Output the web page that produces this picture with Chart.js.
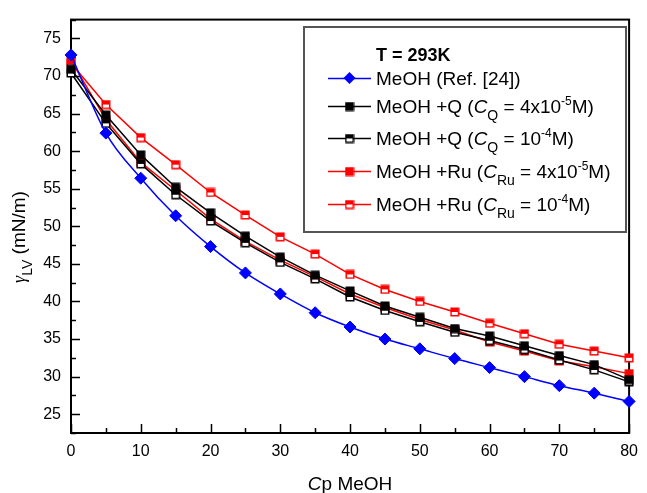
<!DOCTYPE html>
<html>
<head>
<meta charset="utf-8">
<script src="https://cdn.jsdelivr.net/npm/chart.js@4/dist/chart.umd.min.js"></script>
<style>
  html, body { margin: 0; padding: 0; background: #fff; }
  #wrap { width: 647px; height: 493px; position: relative; }
</style>
</head>
<body>
<div id="wrap"><canvas id="c" width="647" height="493"></canvas></div>
<script>
// ---- data ----
const cpMeOH = [0, 5, 10, 15, 20, 25, 30, 35, 40, 45, 50, 55, 60, 65, 70, 75, 80];
const meohRef   = [72.8, 62.4, 56.4, 51.4, 47.3, 43.8, 41.0, 38.5, 36.6, 35.0, 33.7, 32.4, 31.2, 30.0, 28.8, 27.8, 26.7];
const meohQ4e5  = [70.9, 64.8, 59.5, 55.2, 51.8, 48.7, 45.9, 43.5, 41.4, 39.4, 37.9, 36.4, 35.4, 34.1, 32.8, 31.6, 29.6];
const meohQ1e4  = [70.4, 63.7, 58.3, 54.2, 50.7, 47.8, 45.2, 43.0, 40.6, 38.8, 37.3, 35.9, 34.8, 33.6, 32.2, 30.9, 29.3];
const meohRu4e5 = [72.1, 64.2, 58.5, 54.8, 51.0, 48.0, 45.5, 43.3, 41.0, 39.2, 37.6, 36.2, 34.6, 33.4, 32.1, 31.3, 30.4];
const meohRu1e4 = [71.7, 66.2, 61.8, 58.2, 54.5, 51.5, 48.6, 46.3, 43.6, 41.6, 40.0, 38.6, 37.1, 35.7, 34.3, 33.4, 32.5];

const seriesNames = ['MeOH (Ref. [24])', 'MeOH +Q (CQ = 4x10-5M)', 'MeOH +Q (CQ = 10-4M)',
                     'MeOH +Ru (CRu = 4x10-5M)', 'MeOH +Ru (CRu = 10-4M)'];
const legendTitle = 'T = 293K';
const legendRows = [
  [{t: 'MeOH (Ref. [24])'}],
  [{t: 'MeOH +Q ('}, {t: 'C', s: 'i'}, {t: 'Q', s: 'sub'}, {t: ' = 4x10'}, {t: '-5', s: 'sup'}, {t: 'M)'}],
  [{t: 'MeOH +Q ('}, {t: 'C', s: 'i'}, {t: 'Q', s: 'sub'}, {t: ' = 10'}, {t: '-4', s: 'sup'}, {t: 'M)'}],
  [{t: 'MeOH +Ru ('}, {t: 'C', s: 'i'}, {t: 'Ru', s: 'sub'}, {t: ' = 4x10'}, {t: '-5', s: 'sup'}, {t: 'M)'}],
  [{t: 'MeOH +Ru ('}, {t: 'C', s: 'i'}, {t: 'Ru', s: 'sub'}, {t: ' = 10'}, {t: '-4', s: 'sup'}, {t: 'M)'}]
];
const xTitle = [{t: 'C', s: 'i'}, {t: 'p MeOH'}];
const yTitle = [{t: 'γ', s: 'greek'}, {t: 'LV', s: 'sub'}, {t: ' (mN/m)'}];
const xMajorTicks = [0, 10, 20, 30, 40, 50, 60, 70, 80];
const xMinorTicks = [5, 15, 25, 35, 45, 55, 65, 75];
const yMajorTicks = [25, 30, 35, 40, 45, 50, 55, 60, 65, 70, 75];
const yMinorTicks = [22.5, 27.5, 32.5, 37.5, 42.5, 47.5, 52.5, 57.5, 62.5, 67.5, 72.5, 77.5];

const FONT = "'Liberation Sans', Arial, sans-serif";

// ---- marker images ----
function squareMarker(color, half) {
  const s = 10;
  const c = document.createElement('canvas');
  c.width = s; c.height = s;
  const g = c.getContext('2d');
  if (half) {
    g.fillStyle = '#fff'; g.fillRect(1, 1, s - 2, s - 2);
    g.fillStyle = color; g.fillRect(1, 1, s - 2, (s - 2) / 2);
  } else {
    g.fillStyle = color; g.fillRect(1, 1, s - 2, s - 2);
  }
  g.strokeStyle = color; g.lineWidth = 1.5;
  g.strokeRect(1.25, 1.25, s - 2.5, s - 2.5);
  return c;
}
const mkBlackFull = squareMarker('#000000', false);
const mkBlackHalf = squareMarker('#000000', true);
const mkRedFull = squareMarker('#ff0000', false);
const mkRedHalf = squareMarker('#ff0000', true);

function pts(arr) { return cpMeOH.map((x, i) => ({x: x, y: arr[i]})); }

// ---- rich text ----
function segFont(s, base) {
  if (s === 'i') return 'italic ' + base + 'px ' + FONT;
  if (s === 'b') return 'bold ' + base + 'px ' + FONT;
  if (s === 'sub') return Math.round(base * 0.72) + 'px ' + FONT;
  if (s === 'sup') return Math.round(base * 0.65) + 'px ' + FONT;
  if (s === 'greek') return 'italic ' + Math.round(base * 0.95) + "px 'Liberation Serif', 'DejaVu Serif', serif";
  return base + 'px ' + FONT;
}
function segDy(s, base) {
  if (s === 'sub') return base * 0.38;
  if (s === 'sup') return -base * 0.42;
  return 0;
}
function richWidth(ctx, segs, base) {
  let w = 0;
  segs.forEach(sg => { ctx.font = segFont(sg.s, base); w += ctx.measureText(sg.t).width; });
  return w;
}
function drawRich(ctx, segs, x, y, base) {
  ctx.textAlign = 'left';
  ctx.textBaseline = 'alphabetic';
  segs.forEach(sg => {
    ctx.font = segFont(sg.s, base);
    ctx.fillText(sg.t, x, y + segDy(sg.s, base));
    x += ctx.measureText(sg.t).width;
  });
}

const datasetsDef = [
  {data: meohRef, color: '#0000ff', style: 'rectRot', r: 6, mono: true},
  {data: meohQ4e5, color: '#000000', style: mkBlackFull},
  {data: meohQ1e4, color: '#000000', style: mkBlackHalf},
  {data: meohRu4e5, color: '#ff0000', style: mkRedFull},
  {data: meohRu1e4, color: '#ff0000', style: mkRedHalf}
];

const deco = {
  id: 'deco',
  beforeDatasetsDraw(chart) {
    const {ctx, chartArea: a, scales: {x, y}} = chart;
    ctx.save();
    ctx.strokeStyle = '#000';
    ctx.lineWidth = 1.5;
    xMajorTicks.forEach(v => { const p = Math.round(x.getPixelForValue(v)) + 0.5; ctx.beginPath(); ctx.moveTo(p, a.bottom); ctx.lineTo(p, a.bottom - 9); ctx.stroke(); });
    xMinorTicks.forEach(v => { const p = Math.round(x.getPixelForValue(v)) + 0.5; ctx.beginPath(); ctx.moveTo(p, a.bottom); ctx.lineTo(p, a.bottom - 5); ctx.stroke(); });
    yMajorTicks.forEach(v => { const p = Math.round(y.getPixelForValue(v)) + 0.5; ctx.beginPath(); ctx.moveTo(a.left, p); ctx.lineTo(a.left + 9, p); ctx.stroke(); });
    yMinorTicks.forEach(v => { const p = Math.round(y.getPixelForValue(v)) + 0.5; ctx.beginPath(); ctx.moveTo(a.left, p); ctx.lineTo(a.left + 5, p); ctx.stroke(); });
    ctx.lineWidth = 2;
    ctx.strokeRect(a.left, a.top, a.right - a.left, a.bottom - a.top);

    // axis titles
    ctx.fillStyle = '#000';
    const xw = richWidth(ctx, xTitle, 19);
    drawRich(ctx, xTitle, (a.left + a.right) / 2 - xw / 2, 490, 19);
    ctx.save();
    ctx.translate(25, 237);
    ctx.rotate(-Math.PI / 2);
    const yw = richWidth(ctx, yTitle, 19);
    drawRich(ctx, yTitle, -yw / 2, 0, 19);
    ctx.restore();
    ctx.restore();
  },
  afterDraw(chart) {
    const {ctx} = chart;
    ctx.save();
    // legend box
    ctx.fillStyle = '#fff';
    ctx.fillRect(304, 27, 322, 205);
    ctx.strokeStyle = '#555';
    ctx.lineWidth = 2;
    ctx.strokeRect(304, 27, 322, 205);
    ctx.fillStyle = '#000';
    ctx.font = 'bold 18px ' + FONT;
    ctx.textBaseline = 'alphabetic';
    ctx.fillText(legendTitle, 376, 61);
    const rowsY = [78, 106, 138, 171, 204];
    rowsY.forEach((cy, i) => {
      const d = datasetsDef[i];
      ctx.strokeStyle = d.color;
      ctx.lineWidth = 1.5;
      ctx.beginPath(); ctx.moveTo(328, cy + 0.5); ctx.lineTo(371, cy + 0.5); ctx.stroke();
      if (d.style === 'rectRot') {
        ctx.fillStyle = d.color;
        ctx.beginPath();
        ctx.moveTo(349.5, cy - 6); ctx.lineTo(355.5, cy); ctx.lineTo(349.5, cy + 6); ctx.lineTo(343.5, cy);
        ctx.closePath(); ctx.fill();
      } else {
        ctx.drawImage(d.style, 349.5 - d.style.width / 2, cy - d.style.height / 2 + 0.5);
      }
      ctx.fillStyle = '#000';
      drawRich(ctx, legendRows[i], 376, cy + 7, 19);
    });
    ctx.restore();
  }
};

const chart = new Chart(document.getElementById('c'), {
  type: 'line',
  data: {
    datasets: datasetsDef.map((d, i) => ({
      label: seriesNames[i],
      data: pts(d.data),
      borderColor: d.color,
      backgroundColor: d.color,
      borderWidth: 1.5,
      pointStyle: d.style,
      pointRadius: d.r || 5,
      pointHoverRadius: d.r || 5,
      pointBackgroundColor: d.color,
      pointBorderColor: d.color,
      pointBorderWidth: 1,
      tension: d.mono ? 0.4 : 0,
      cubicInterpolationMode: d.mono ? 'monotone' : 'default',
      clip: false
    }))
  },
  options: {
    responsive: false,
    animation: false,
    events: [],
    layout: {padding: {left: 0, top: 13, right: 9, bottom: 0}},
    plugins: {legend: {display: false}, tooltip: {enabled: false}, title: {display: false}},
    scales: {
      x: {
        type: 'linear', min: 0, max: 80,
        grid: {display: false, drawTicks: false},
        border: {display: false},
        ticks: {stepSize: 10, padding: 9, color: '#000', font: {family: FONT, size: 16}, maxRotation: 0},
        afterBuildTicks: s => { s.ticks = xMajorTicks.map(v => ({value: v})); },
        afterFit: s => { s.height = 60; }
      },
      y: {
        type: 'linear', min: 22.5, max: 77.5,
        grid: {display: false, drawTicks: false},
        border: {display: false},
        ticks: {padding: 10, color: '#000', font: {family: FONT, size: 16}},
        afterBuildTicks: s => { s.ticks = yMajorTicks.map(v => ({value: v})); },
        afterFit: s => { s.width = 71; }
      }
    }
  },
  plugins: [deco]
});
</script>
</body>
</html>
